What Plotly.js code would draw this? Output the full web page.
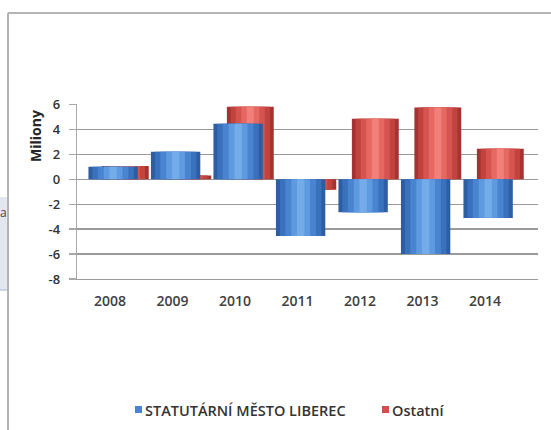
<!DOCTYPE html>
<html>
<head>
<meta charset="utf-8">
<script src="https://cdn.plot.ly/plotly-3.0.1.min.js"></script>
<style>html,body{margin:0;padding:0;background:#fff;}#chart{width:551px;height:430px;}</style>
</head>
<body>
<div id="chart"></div>
<script>
// ---- data ----
const years = ["2008", "2009", "2010", "2011", "2012", "2013", "2014"];
const liberec = [1.0, 2.2, 4.45, -4.55, -2.65, -6.0, -3.1];
const ostatni = [1.05, 0.3, 5.8, -0.85, 4.85, 5.75, 2.45];
const seriesNames = ["STATUTÁRNÍ MĚSTO LIBEREC", "Ostatní"];
const yTicks = [-8, -6, -4, -2, 0, 2, 4, 6];

// ---- styling ----
const blueLayers = [[1.0, "#2d5da3"], [0.84, "#3a71bd"], [0.62, "#4984d1"], [0.38, "#5d9adf"], [0.15, "#73ace9"]];
const redLayers  = [[1.0, "#a63331"], [0.84, "#c0433e"], [0.62, "#d5544f"], [0.38, "#e66863"], [0.15, "#f27f79"]];

function layered(vals, name, layers, off, w) {
  return layers.map(function (l, i) {
    return {
      type: "bar", x: years, y: vals, name: name,
      width: w * l[0], offset: off + w * (1 - l[0]) / 2,
      marker: {color: l[1], line: {width: 0}},
      showlegend: false, hoverinfo: i === 0 ? "x+y+name" : "skip"
    };
  });
}

const traces = [].concat(
  layered(ostatni, seriesNames[1], redLayers, -0.13, 0.75),
  layered(liberec, seriesNames[0], blueLayers, -0.345, 0.79)
);

const W = 461, H = 175, L = 77, T = 104;
function px(x) { return (x - L) / W; }
function py(y) { return (T + H - y) / H; }

const shapes = [
  // chart frame (left + top)
  {type: "line", xref: "paper", yref: "paper", x0: px(8), x1: px(8), y0: py(13), y1: py(432), line: {color: "#b4b4b4", width: 2}},
  {type: "line", xref: "paper", yref: "paper", x0: px(8), x1: px(553), y0: py(13), y1: py(13), line: {color: "#b4b4b4", width: 2}},
  // spreadsheet fragment at left
  {type: "rect", xref: "paper", yref: "paper", x0: px(-2), x1: px(7), y0: py(197), y1: py(290), fillcolor: "#e3e8f0", line: {width: 0}},
  {type: "line", xref: "paper", yref: "paper", x0: px(-2), x1: px(7), y0: py(290), y1: py(290), line: {color: "#9fb6d3", width: 1}},
  // legend squares
  {type: "rect", xref: "paper", yref: "paper", x0: px(135), x1: px(142), y0: py(406), y1: py(413), fillcolor: "#4a84d0", line: {width: 0}},
  {type: "rect", xref: "paper", yref: "paper", x0: px(382), x1: px(389), y0: py(406), y1: py(413), fillcolor: "#d0504d", line: {width: 0}}
];

const legendFont = {family: "Open Sans", size: 14.5, color: "#333333", weight: 600};
const annotations = [
  {text: "Miliony", xref: "paper", yref: "paper", x: px(35), y: py(136), xanchor: "center", yanchor: "middle",
   textangle: -90, showarrow: false,
   font: {family: "Open Sans", size: 14, color: "#262626", weight: "bold"}},
  {text: seriesNames[0], xref: "paper", yref: "paper", x: px(143), y: py(410), xanchor: "left", yanchor: "middle", showarrow: false,
   font: legendFont},
  {text: seriesNames[1], xref: "paper", yref: "paper", x: px(390), y: py(410), xanchor: "left", yanchor: "middle", showarrow: false,
   font: legendFont},
  {text: "a", xref: "paper", yref: "paper", x: px(3), y: py(212), xanchor: "center", yanchor: "middle", showarrow: false,
   font: {family: "Open Sans", size: 12, color: "#444444"}}
];

const layout = {
  width: 551, height: 430,
  margin: {l: L, r: 551 - L - W, t: T, b: 430 - T - H, pad: 0},
  paper_bgcolor: "#ffffff", plot_bgcolor: "#ffffff",
  barmode: "overlay",
  showlegend: false,
  font: {family: "Open Sans", color: "#404040"},
  xaxis: {
    type: "category", categoryarray: years, range: [-0.528, 6.848],
    showgrid: false, zeroline: false, showline: true, linecolor: "#9a9a9a", linewidth: 1.3, ticks: "",
    tickfont: {size: 14, color: "#404040", weight: 600}, ticklabelstandoff: 9
  },
  yaxis: {
    range: [-8, 6.03], tickvals: yTicks, ticktext: yTicks.map(String),
    showgrid: true, gridcolor: "#9a9a9a", gridwidth: 1.3,
    zeroline: false, showline: true, linecolor: "#a8a8a8", linewidth: 1.3,
    ticks: "outside", ticklen: 7, tickcolor: "#a8a8a8", tickwidth: 1.3,
    tickfont: {size: 13, color: "#333333", weight: 600}, ticklabelstandoff: 6
  },
  shapes: shapes,
  annotations: annotations
};

Plotly.newPlot("chart", traces, layout, {displayModeBar: false, staticPlot: true});
</script>
</body>
</html>
